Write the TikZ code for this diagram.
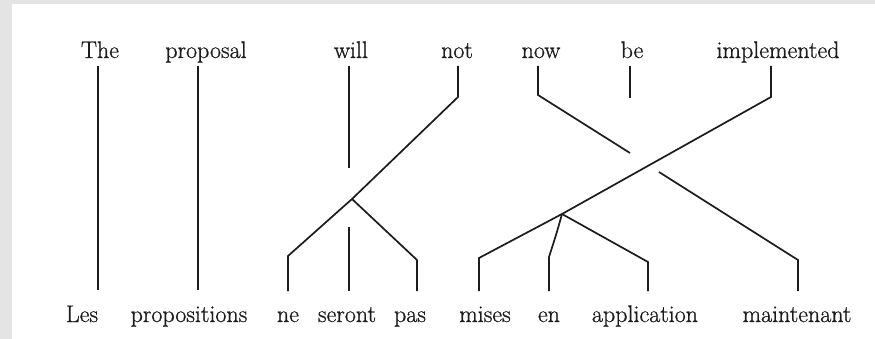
\documentclass[tikz,border=0pt]{standalone}
\usepackage{fontspec}
\newfontfamily\heavyfont{Latin Modern Roman}[FakeBold=0.8]
\definecolor{ink}{HTML}{1C1C1C}
\definecolor{frame}{HTML}{E4E4E4}
\tikzset{
  word/.style={anchor=base, inner sep=0pt, text=ink, font=\heavyfont\fontsize{24}{28}\selectfont},
  link/.style={draw=ink, line width=1.7pt, line join=miter},
}
\begin{document}
\begin{tikzpicture}[x=1pt, y=-1pt]
\useasboundingbox (0,0) rectangle (875,339);
\fill[white] (0,0) rectangle (875,339);
\fill[frame] (0,0) rectangle (12,339);
\fill[frame] (0,0) rectangle (875,4);

% top words (English)
\node[word] (tThe)  at (100,58) {The};
\node[word] (tProp) at (206,58) {proposal};
\node[word] (tWill) at (351,58) {will};
\node[word] (tNot)  at (457,58) {not};
\node[word] (tNow)  at (541,58) {now};
\node[word] (tBe)   at (632,58) {be};
\node[word] (tImpl) at (778,58) {implemented};

% bottom words (French)
\node[word] (bLes)   at (82,322)  {Les};
\node[word] (bProp)  at (189,322) {propositions};
\node[word] (bNe)    at (288,322) {ne};
\node[word] (bSer)   at (347,322) {seront};
\node[word] (bPas)   at (410,322) {pas};
\node[word] (bMis)   at (485,322) {mises};
\node[word] (bEn)    at (549,322) {en};
\node[word] (bApp)   at (645,322) {application};
\node[word] (bMain)  at (797,322) {maintenant};

% connector end points
\coordinate (aThe)  at (98,66);   \coordinate (aLes)  at (98,290);
\coordinate (aProp) at (198,66);  \coordinate (aProps) at (198,290);
\coordinate (aWill) at (349,66);  \coordinate (eWill) at (349,168);
\coordinate (sSer)  at (349,227); \coordinate (aSer)  at (349,291);
\coordinate (aNot)  at (458,66);  \coordinate (kNot)  at (458,97);
\coordinate (j1)    at (352,199);
\coordinate (kNe)   at (288,256); \coordinate (aNe)   at (288,291);
\coordinate (kPas)  at (417,260); \coordinate (aPas)  at (417,291);
\coordinate (aNow)  at (538,66);  \coordinate (kNow)  at (538,95);
\coordinate (gNow1) at (630,153); \coordinate (gNow2) at (659,172);
\coordinate (kMain) at (798,260); \coordinate (aMain) at (798,291);
\coordinate (aBe)   at (630,66);  \coordinate (eBe)   at (630,98);
\coordinate (aImpl) at (771,66);  \coordinate (kImpl) at (771,97);
\coordinate (j2)    at (562,214);
\coordinate (kMis)  at (479,258); \coordinate (aMis)  at (479,291);
\coordinate (kEn)   at (549,257); \coordinate (aEn)   at (549,291);
\coordinate (kApp)  at (648,262); \coordinate (aApp)  at (648,291);

% connectors
\draw[link] (aThe) -- (aLes);
\draw[link] (aProp) -- (aProps);
\draw[link] (aWill) -- (eWill);
\draw[link] (sSer) -- (aSer);
\draw[link] (aNot) -- (kNot) -- (j1) -- (kNe) -- (aNe);
\draw[link] (j1) -- (kPas) -- (aPas);
\draw[link] (aNow) -- (kNow) -- (gNow1);
\draw[link] (gNow2) -- (kMain) -- (aMain);
\draw[link] (aBe) -- (eBe);
\draw[link] (aImpl) -- (kImpl) -- (j2) -- (kMis) -- (aMis);
\draw[link] (j2) .. controls (557,232) .. (kEn) -- (aEn);
\draw[link] (j2) -- (kApp) -- (aApp);
\end{tikzpicture}
\end{document}
